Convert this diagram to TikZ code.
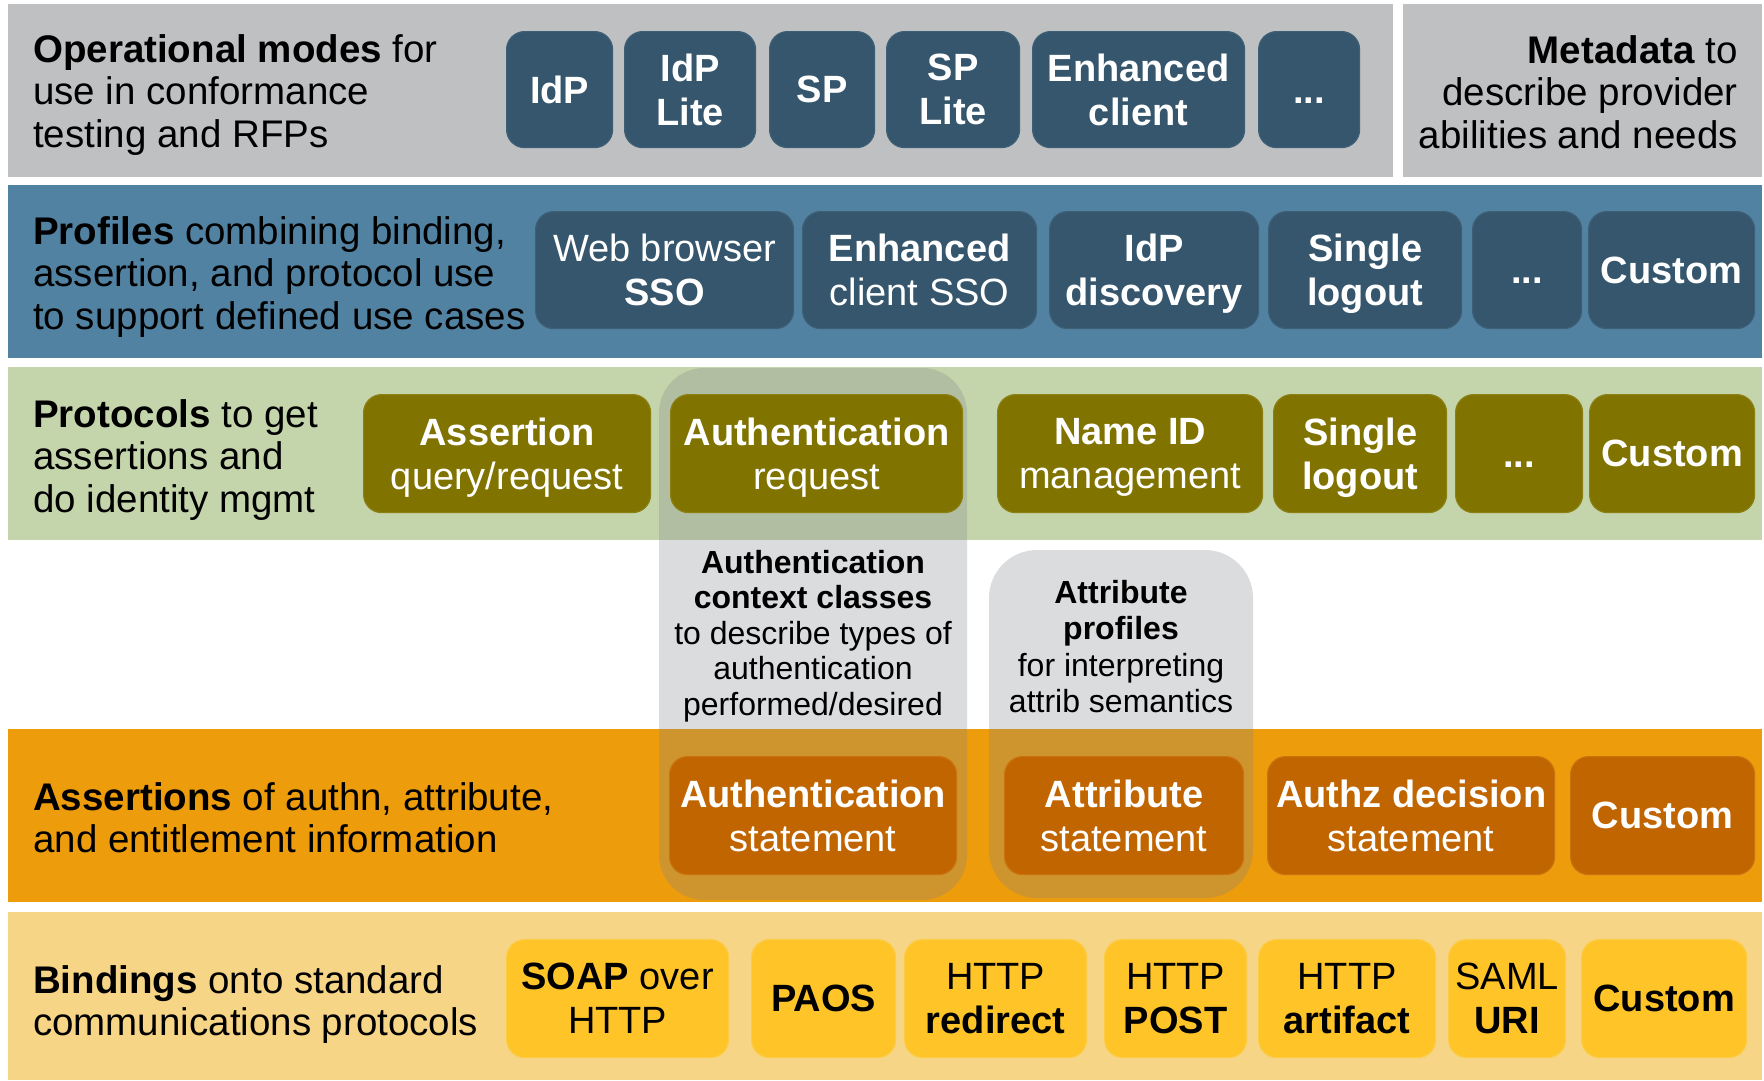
\documentclass[tikz,border=0pt]{standalone}
\usepackage{fontspec}
\setmainfont{Liberation Sans}

% layer colours
\definecolor{modegray}{RGB}{191,192,194}
\definecolor{slate}{RGB}{53,86,108}
\definecolor{slateedge}{RGB}{62,96,118}
\definecolor{profblue}{RGB}{82,130,162}
\definecolor{protogreen}{RGB}{197,213,171}
\definecolor{olive}{RGB}{128,115,0}
\definecolor{oliveedge}{RGB}{140,128,20}
\definecolor{assertorange}{RGB}{237,156,12}
\definecolor{rust}{RGB}{192,101,0}
\definecolor{rustedge}{RGB}{202,114,14}
\definecolor{bindsand}{RGB}{247,213,135}
\definecolor{gold}{RGB}{254,196,40}
\definecolor{goldedge}{RGB}{252,204,70}
\definecolor{shade}{RGB}{128,131,138}

% cap-height strut for cells whose text has no capitals
\newcommand{\capstrut}{\rule{0pt}{27pt}}

\begin{document}
\begin{tikzpicture}[x=1pt,y=-1pt,
  cell/.style={rounded corners=18pt, inner sep=0pt, align=center, anchor=north west,
    font=\fontsize{38}{44}\selectfont, line width=1.2pt, text depth=0pt},
  slatecell/.style={cell, fill=slate, draw=slateedge, text=white},
  olivecell/.style={cell, fill=olive, draw=oliveedge, text=white},
  rustcell/.style={cell, fill=rust, draw=rustedge, text=white},
  goldcell/.style={cell, fill=gold, draw=goldedge, text=black},
  lead/.style={inner sep=0pt, font=\fontsize{38.5}{42.5}\selectfont, text=black},
  overlay/.style={fill=shade, fill opacity=0.28, draw=none},
  note/.style={inner sep=0pt, align=center, anchor=north, font=\fontsize{32}{35.5}\selectfont, text=black}
]
\useasboundingbox (0,0) rectangle (1764,1080);
\fill[white] (0,0) rectangle (1764,1080);

% horizontal layers
\fill[modegray] (8,4) rectangle (1393,177);
\fill[modegray] (1403,4) rectangle (1762,177);
\fill[profblue] (8,185) rectangle (1762,358);
\fill[protogreen] (8,367) rectangle (1762,540);
\fill[assertorange] (8,729) rectangle (1762,902);
\fill[bindsand] (8,912) rectangle (1762,1080);

% translucent columns linking protocols and assertions
\fill[overlay, rounded corners=45pt] (659,368) rectangle (967,900);
\fill[overlay, rounded corners=48pt] (989,550) rectangle (1253,898);

% layer captions
\node[lead, anchor=north west, align=left] (modes) at (33,34)
  {\textbf{Operational modes} for\\use in conformance\\testing and RFPs};
\node[lead, anchor=north east, align=right] (meta) at (1738,35)
  {\textbf{Metadata} to\\describe provider\\abilities and needs};
\node[lead, anchor=north west, align=left] (profiles) at (33,216)
  {\textbf{Profiles} combining binding,\\assertion, and protocol use\\to support defined use cases};
\node[lead, anchor=north west, align=left] (protocols) at (33,399)
  {\textbf{Protocols} to get\\assertions and\\do identity mgmt};
\node[lead, anchor=north west, align=left] (assertions) at (33,782)
  {\textbf{Assertions} of authn, attribute,\\and entitlement information};
\node[lead, anchor=north west, align=left] (bindings) at (33,965)
  {\textbf{Bindings} onto standard\\communications protocols};

% operational modes
\node[slatecell, minimum width=106pt, minimum height=116pt] (m1) at (506,31) {\textbf{IdP}};
\node[slatecell, minimum width=131pt, minimum height=116pt] (m2) at (624,31) {\textbf{IdP}\\\textbf{Lite}};
\node[slatecell, minimum width=105pt, minimum height=116pt] (m3) at (769,31) {\textbf{SP}};
\node[slatecell, minimum width=133pt, minimum height=116pt] (m4) at (886,31) {\textbf{SP}\\\textbf{Lite}};
\node[slatecell, minimum width=212pt, minimum height=116pt] (m5) at (1032,31) {\textbf{Enhanced}\\\textbf{client}};
\node[slatecell, minimum width=101pt, minimum height=116pt] (m6) at (1258,31) {\capstrut\textbf{...}};

% profiles
\node[slatecell, minimum width=258pt, minimum height=117pt] (p1) at (535,211) {Web browser\\\textbf{SSO}};
\node[slatecell, minimum width=234pt, minimum height=117pt] (p2) at (802,211) {\textbf{Enhanced}\\client SSO};
\node[slatecell, minimum width=209pt, minimum height=117pt] (p3) at (1049,211) {\textbf{IdP}\\\textbf{discovery}};
\node[slatecell, minimum width=193pt, minimum height=117pt] (p4) at (1268,211) {\textbf{Single}\\\textbf{logout}};
\node[slatecell, minimum width=109pt, minimum height=117pt] (p5) at (1472,211) {\capstrut\textbf{...}};
\node[slatecell, minimum width=166pt, minimum height=117pt] (p6) at (1588,211) {\textbf{Custom}};

% protocols
\node[olivecell, minimum width=287pt, minimum height=118pt] (r1) at (363,394) {\textbf{Assertion}\\query/request};
\node[olivecell, minimum width=292pt, minimum height=118pt] (r2) at (670,394) {\textbf{Authentication}\\request};
\node[olivecell, minimum width=265pt, minimum height=118pt] (r3) at (997,394) {\textbf{Name ID}\\management};
\node[olivecell, minimum width=173pt, minimum height=118pt] (r4) at (1273,394) {\textbf{Single}\\\textbf{logout}};
\node[olivecell, minimum width=127pt, minimum height=118pt] (r5) at (1455,394) {\capstrut\textbf{...}};
\node[olivecell, minimum width=165pt, minimum height=118pt] (r6) at (1589,394) {\textbf{Custom}};

% notes inside the translucent columns
\node[note] (authctx) at (813,550)
  {\textbf{Authentication}\\\textbf{context classes}\\to describe types of\\authentication\\performed/desired};
\node[note, font=\fontsize{32}{36.5}\selectfont] (attrprof) at (1121,580)
  {\textbf{Attribute}\\\textbf{profiles}\\for interpreting\\attrib semantics};

% assertions
\node[rustcell, minimum width=287pt, minimum height=118pt] (a1) at (669,756) {\textbf{Authentication}\\statement};
\node[rustcell, minimum width=239pt, minimum height=118pt] (a2) at (1004,756) {\textbf{Attribute}\\statement};
\node[rustcell, minimum width=287pt, minimum height=118pt] (a3) at (1267,756) {\textbf{Authz decision}\\statement};
\node[rustcell, minimum width=184pt, minimum height=118pt] (a4) at (1570,756) {\textbf{Custom}};

% bindings
\node[goldcell, minimum width=222pt, minimum height=118pt] (b1) at (506,939) {\textbf{SOAP} over\\HTTP};
\node[goldcell, minimum width=144pt, minimum height=118pt] (b2) at (751,939) {\textbf{PAOS}};
\node[goldcell, minimum width=182pt, minimum height=118pt] (b3) at (904,939) {HTTP\\\textbf{redirect}};
\node[goldcell, minimum width=142pt, minimum height=118pt] (b4) at (1104,939) {HTTP\\\textbf{POST}};
\node[goldcell, minimum width=177pt, minimum height=118pt] (b5) at (1258,939) {HTTP\\\textbf{artifact}};
\node[goldcell, minimum width=117pt, minimum height=118pt] (b6) at (1448,939) {SAML\\\textbf{URI}};
\node[goldcell, minimum width=165pt, minimum height=118pt] (b7) at (1581,939) {\textbf{Custom}};
\end{tikzpicture}
\end{document}
